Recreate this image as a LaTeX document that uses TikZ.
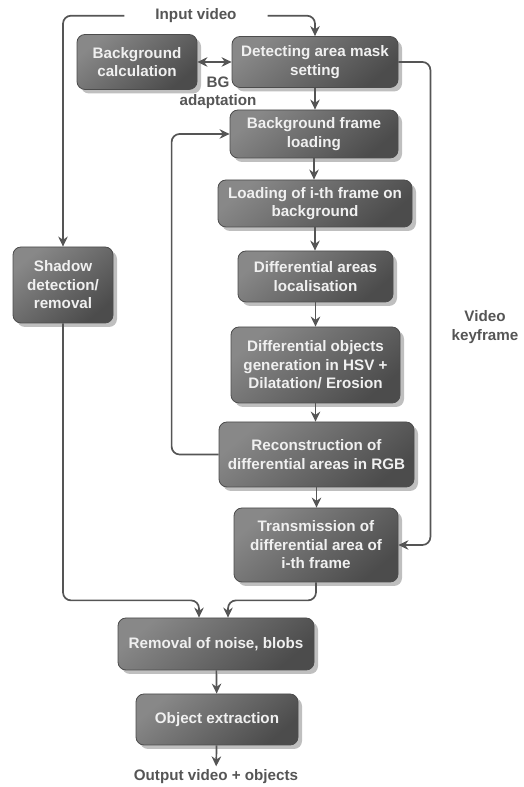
\documentclass[tikz,border=0pt]{standalone}
\usepackage{fontspec}
\setsansfont{Liberation Sans}
\usepackage{tikz}
\usetikzlibrary{arrows.meta, shadows}
\definecolor{linegray}{HTML}{555555}
\definecolor{boxlight}{HTML}{888888}
\definecolor{boxmid}{HTML}{585858}
\definecolor{boxdark}{HTML}{4C4C4C}

\begin{document}
\begin{tikzpicture}[
    x=1pt, y=1pt,
    >={Stealth[length=10pt,width=9.5pt]},
    every node/.style={font=\sffamily\bfseries\fontsize{15.2}{18.5}\selectfont, align=center},
    box/.style={rounded corners=8pt, draw=black!70, line width=0.8pt,
        top color=boxlight, middle color=boxmid, bottom color=boxdark, shading angle=40,
        text=white!94!black, inner sep=2pt,
        drop shadow={shadow xshift=4pt, shadow yshift=-4pt, fill=black!25, opacity=1}},
    lbl/.style={text=linegray},
    line/.style={draw=linegray, line width=1.7pt, rounded corners=8pt}
]
\useasboundingbox (0,0) rectangle (523,787);

% processing boxes
\node[box, minimum width=120pt, minimum height=55pt] (bgcalc) at (137,725) {Background\\calculation};
\node[box, minimum width=166pt, minimum height=51pt] (detect) at (315,725) {Detecting area mask\\setting};
\node[box, minimum width=168pt, minimum height=48pt] (bgframe) at (314,653) {Background frame\\loading};
\node[box, minimum width=194pt, minimum height=47pt] (loadi) at (315,583.5) {Loading of i-th frame on\\background};
\node[box, minimum width=155pt, minimum height=51pt] (diffloc) at (315.5,510.5) {Differential areas\\localisation};
\node[box, minimum width=169pt, minimum height=76pt] (diffobj) at (315.5,422) {Differential objects\\generation in HSV +\\Dilatation/ Erosion};
\node[box, minimum width=195pt, minimum height=65pt] (recon) at (316.5,332.5) {Reconstruction of\\differential areas in RGB};
\node[box, minimum width=164pt, minimum height=74pt] (trans) at (316,242) {Transmission of\\differential area of\\i-th frame};
\node[box, minimum width=100pt, minimum height=76pt] (shadow) at (63,502) {Shadow\\detection/\\removal};
\node[box, minimum width=196pt, minimum height=52pt] (removal) at (216,143) {Removal of noise, blobs};
\node[box, minimum width=162pt, minimum height=51pt] (objext) at (217,67.5) {Object extraction};

% labels
\node[lbl, inner xsep=31pt] (input) at (196,771.3) {Input video};
\node[lbl] (bgad) at (218,694) {BG\\adaptation};
\node[lbl] (vkey) at (485,460) {Video\\keyframe};
\node[lbl] (output) at (216,10) {Output video + objects};

% connectors
\draw[line,->] (input.west) -| (shadow.north);
\draw[line,->] (input.east) -| (detect.north);
\draw[line,<->] (bgcalc.east) -- (detect.west);
\foreach \a/\b in {detect/bgframe, bgframe/loadi, loadi/diffloc, diffloc/diffobj, diffobj/recon, recon/trans}
    \draw[line,->] (\a.south) -- (\a.south |- \b.north);
\draw[line,->] (recon.west) -- ++(-47,0) |- (bgframe.west);
\draw[line,->] (detect.east) -- ++(32,0) |- (trans.east);
\draw[line,->] (shadow.south) -- ++(0,-277) -| ([xshift=-17pt]removal.north);
\draw[line,->] (trans.south) -- ++(0,-18) -| ([xshift=12pt]removal.north);
\draw[line,->] (removal) -- (objext);
\draw[line,->] (objext) -- (output);

\end{tikzpicture}
\end{document}
